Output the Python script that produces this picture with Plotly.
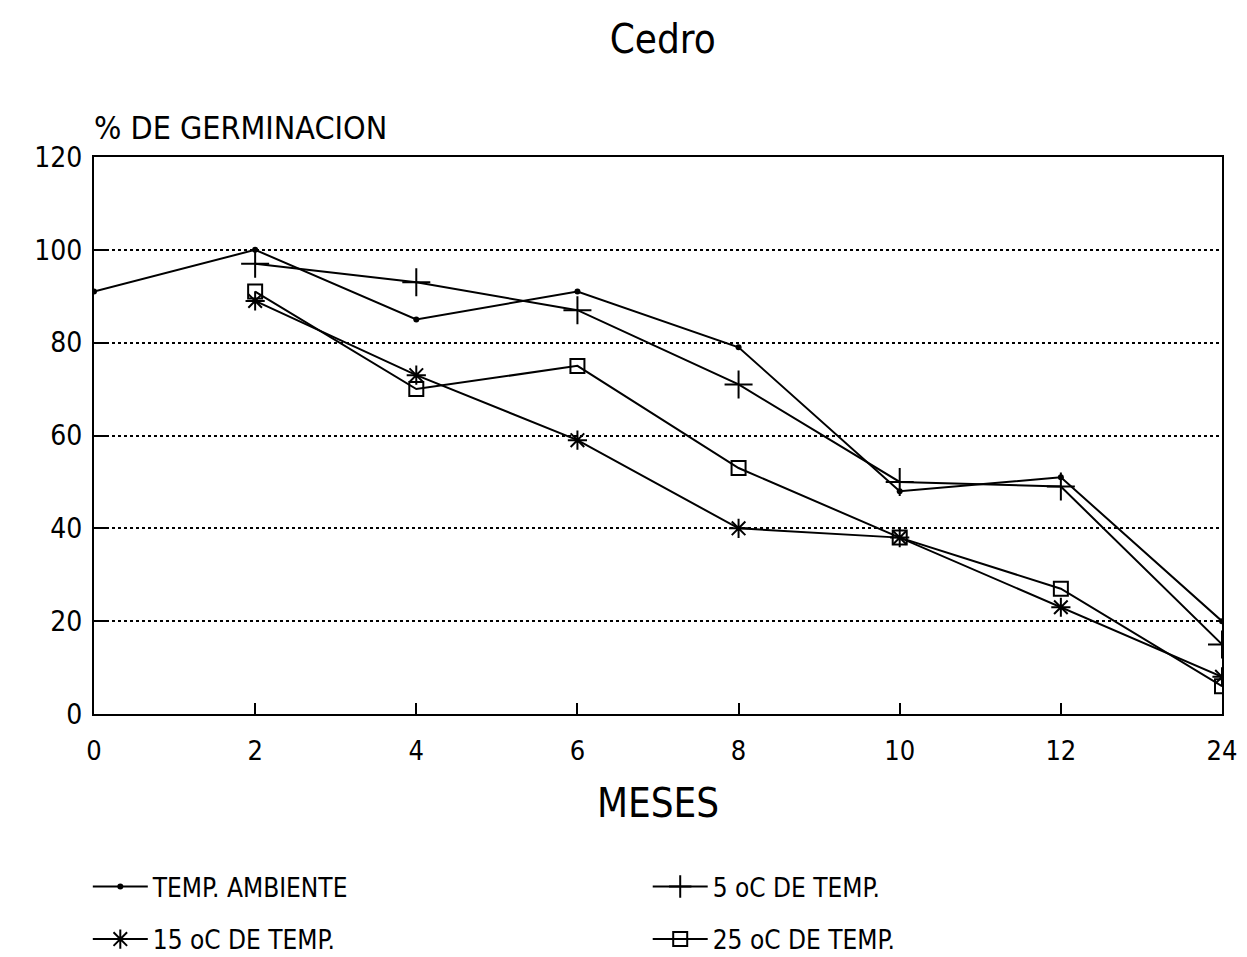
import plotly.graph_objects as go

meses = ["0", "2", "4", "6", "8", "10", "12", "24"]
ambiente = [91, 100, 85, 91, 79, 48, 51, 20]
meses_frio = ["2", "4", "6", "8", "10", "12", "24"]
temp_5 = [97, 93, 87, 71, 50, 49, 15]
temp_15 = [89, 73, 59, 40, 38, 23, 8]
temp_25 = [91, 70, 75, 53, 38, 27, 6]

FONT = "DejaVu Sans Condensed, DejaVu Sans"
pos = {m: i for i, m in enumerate(meses)}

fig = go.Figure()
fig.add_trace(go.Scatter(x=[pos[m] for m in meses], y=ambiente, mode='lines+markers',
                         name='TEMP. AMBIENTE', legend='legend', showlegend=True,
                         line=dict(color='black', width=2),
                         marker=dict(symbol='circle', size=6, color='black')))
fig.add_trace(go.Scatter(x=[pos[m] for m in meses_frio], y=temp_5, mode='lines+markers',
                         name='5 oC DE TEMP.', legend='legend2', showlegend=True,
                         line=dict(color='black', width=2),
                         marker=dict(symbol='cross-thin-open', size=20, color='black',
                                     line=dict(width=2, color='black'))))
fig.add_trace(go.Scatter(x=[pos[m] for m in meses_frio], y=temp_15, mode='lines+markers',
                         name='15 oC DE TEMP.', legend='legend3', showlegend=True,
                         line=dict(color='black', width=2),
                         marker=dict(symbol='asterisk-open', size=16, color='black',
                                     line=dict(width=2, color='black'))))
fig.add_trace(go.Scatter(x=[pos[m] for m in meses_frio], y=temp_25, mode='lines+markers',
                         name='25 oC DE TEMP.', legend='legend4', showlegend=True,
                         line=dict(color='black', width=2),
                         marker=dict(symbol='square-open', size=14, color='black',
                                     line=dict(width=2, color='black'))))

leg = dict(xref='container', yref='container', xanchor='left', yanchor='middle',
           itemwidth=55, font=dict(size=26, family=FONT), bgcolor='rgba(0,0,0,0)')

fig.update_layout(
    width=1247, height=957, showlegend=True,
    paper_bgcolor='white', plot_bgcolor='white',
    font=dict(family=FONT, color='black'),
    margin=dict(l=86, r=33, t=149, b=251, autoexpand=False),
    title=dict(text='Cedro', x=0.525, xanchor='center', y=0.968, yanchor='middle',
               font=dict(size=40, family=FONT)),
    legend=dict(leg, x=0.064, y=0.082),
    legend2=dict(leg, x=0.513, y=0.082),
    legend3=dict(leg, x=0.064, y=0.027),
    legend4=dict(leg, x=0.513, y=0.027),
    xaxis=dict(range=[0, 7], tickmode='array', tickvals=list(range(len(meses))),
               ticktext=meses, showgrid=False, zeroline=False,
               showline=True, linecolor='black', linewidth=2, mirror=True,
               ticks='inside', ticklen=11, tickwidth=2, tickcolor='black',
               tickfont=dict(size=27, family=FONT), ticklabelstandoff=12,
               title=dict(text='MESES', font=dict(size=40, family=FONT), standoff=24)),
    yaxis=dict(range=[0, 120], tickvals=[0, 20, 40, 60, 80, 100, 120],
               showgrid=True, gridcolor='black', griddash='dot', gridwidth=1.5,
               zeroline=False, showline=True, linecolor='black', linewidth=2, mirror=True,
               ticks='inside', ticklen=12, tickwidth=2, tickcolor='black',
               tickfont=dict(size=28, family=FONT), ticklabelstandoff=4),
    annotations=[dict(text='% DE GERMINACION', xref='paper', yref='paper', x=-0.002, y=1.015,
                      xanchor='left', yanchor='bottom', showarrow=False,
                      font=dict(size=32, family=FONT))],
)

fig.write_html("out.html")
